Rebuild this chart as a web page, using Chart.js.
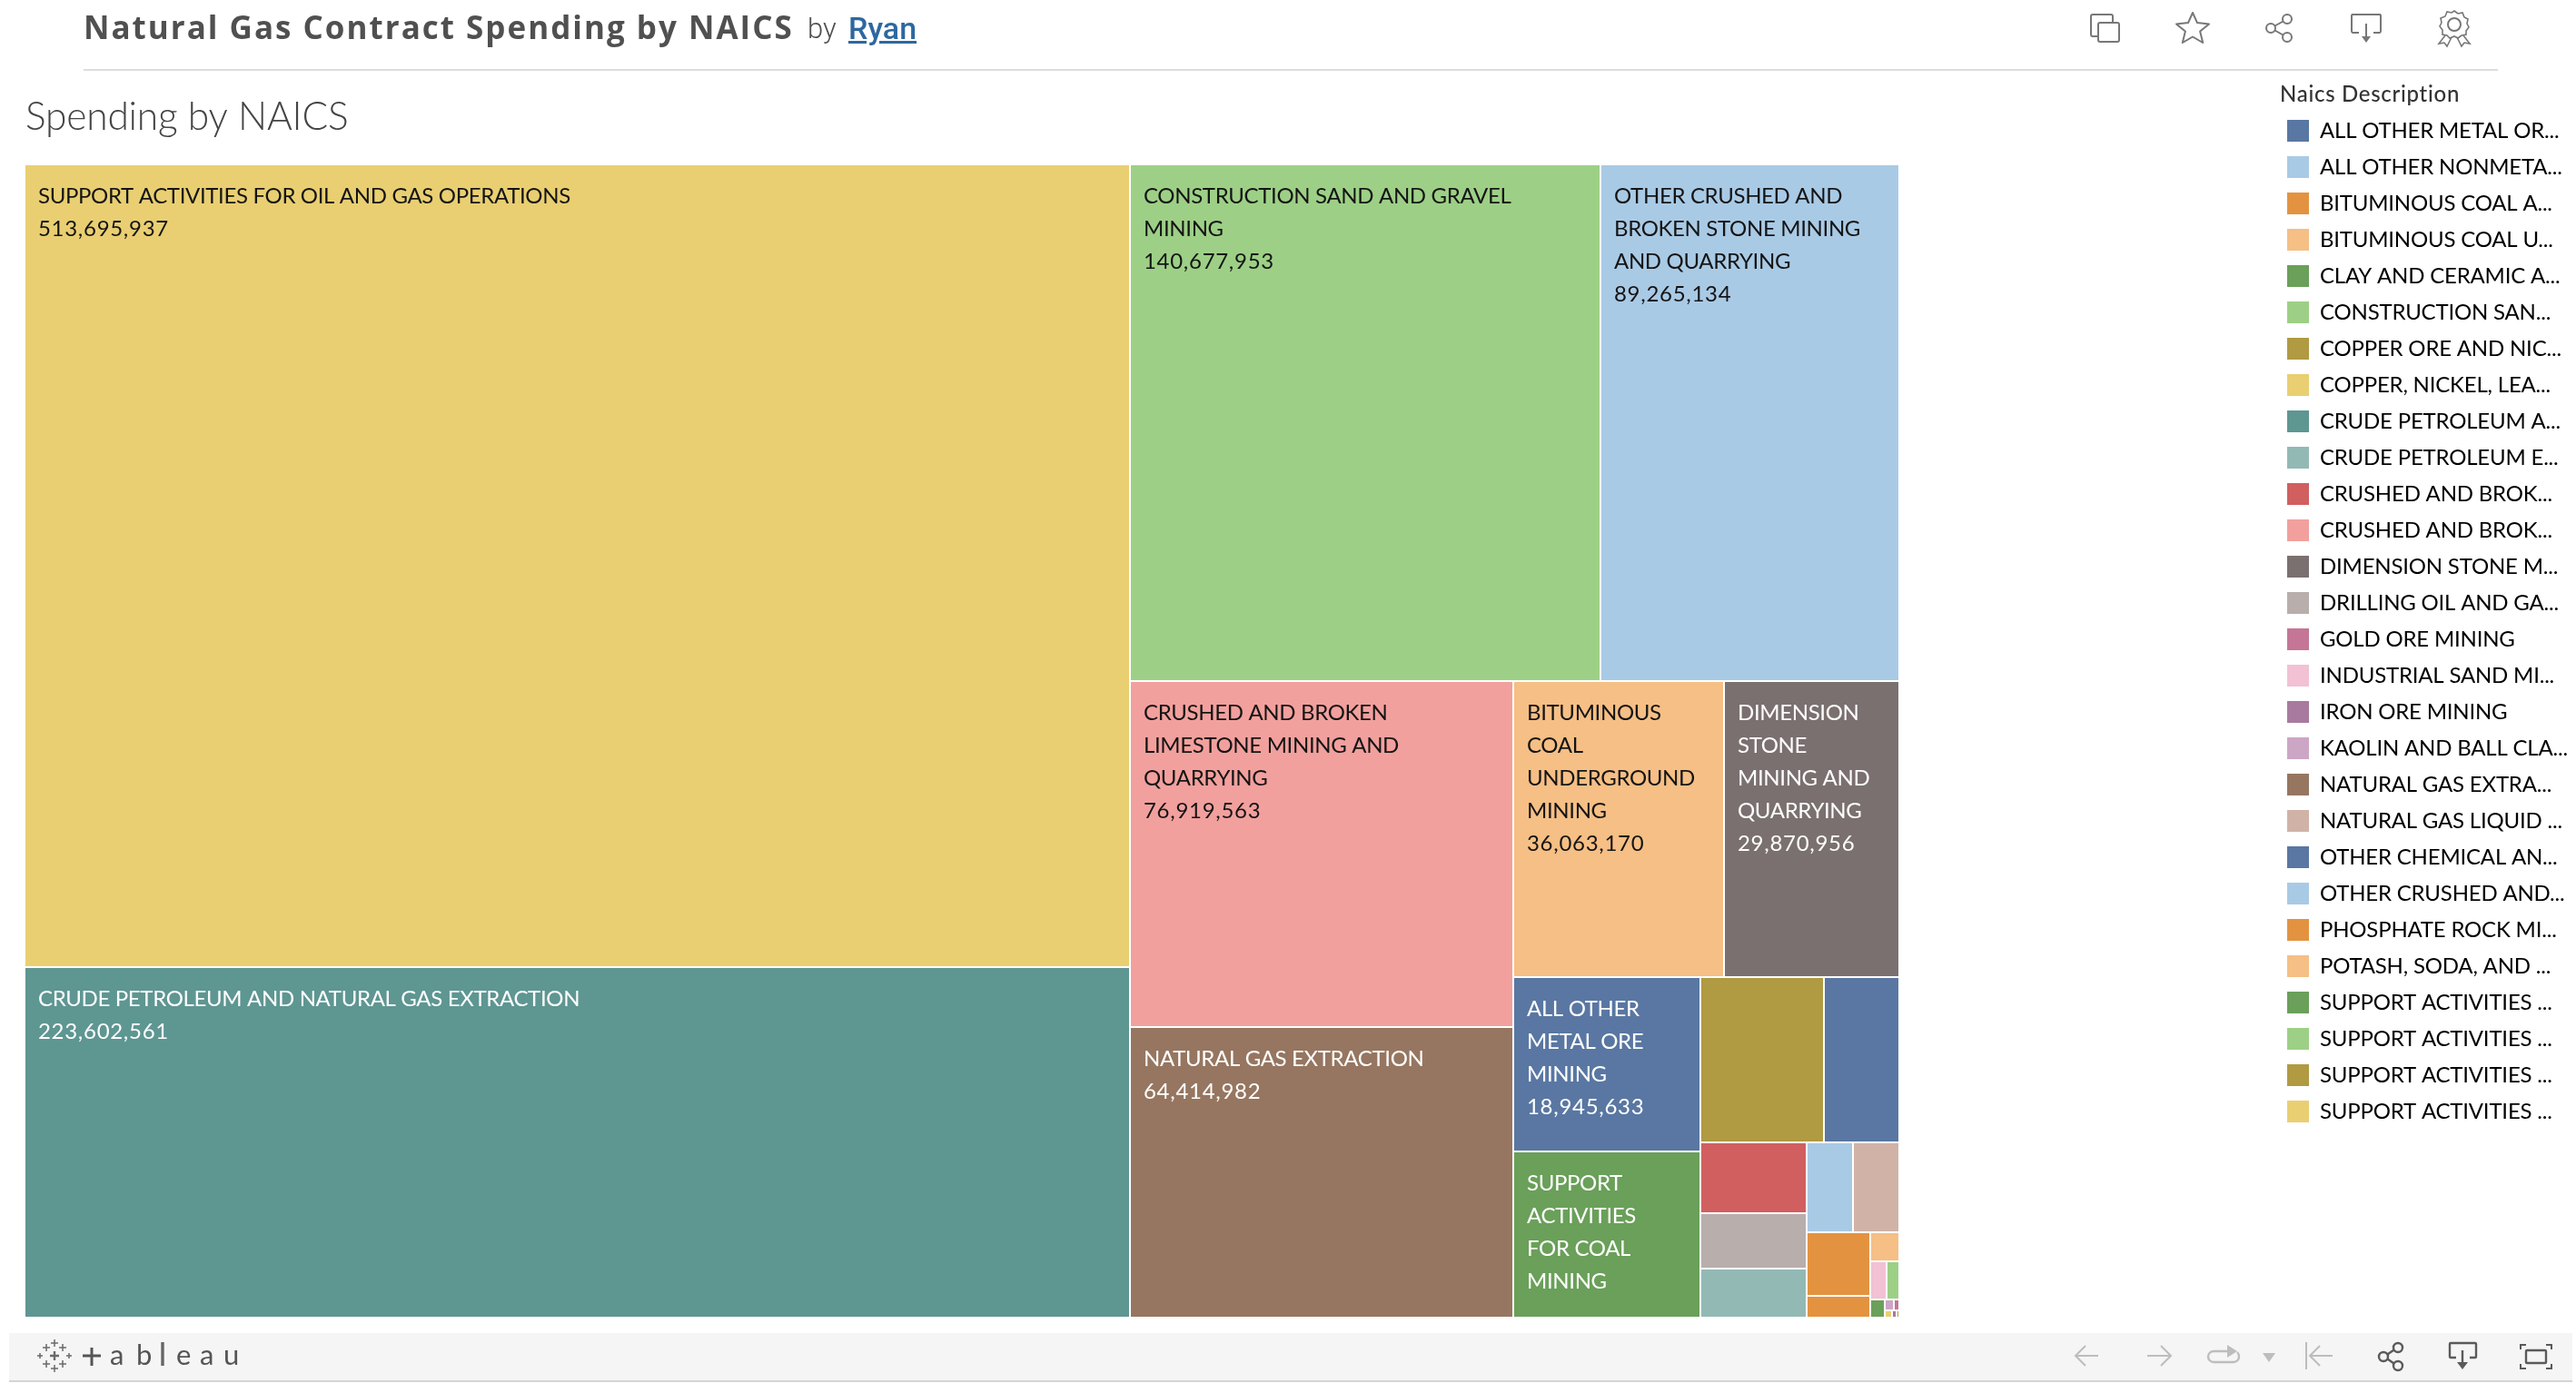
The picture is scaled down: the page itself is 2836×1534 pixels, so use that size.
<!DOCTYPE html>
<html><head><meta charset="utf-8">
<script src="https://cdn.jsdelivr.net/npm/chart.js@4/dist/chart.umd.js"></script>
<style>
html,body{margin:0;padding:0;background:#fff;width:2836px;height:1534px;overflow:hidden}
#c{position:absolute;left:0;top:0;width:2836px;height:1534px}
.t{position:absolute;white-space:pre;font-family:Roboto,sans-serif}
#ttl{left:92px;top:7px;font-family:"Open Sans",sans-serif;font-size:35px;line-height:46px;font-weight:700;color:#505050;letter-spacing:2px}
#by{left:889px;top:10px;font-size:31px;line-height:44px;font-weight:300;color:#505050}
#ryan{left:934px;top:8px;font-size:34px;line-height:46px;font-weight:500;color:#2d689f;text-decoration:underline}
#hr{position:absolute;left:92px;top:76px;width:2658px;height:2px;background:#dddddd}
#lt{left:2510px;top:88px;font-family:Lato,sans-serif;font-size:24px;line-height:30px;font-weight:500;color:#333;letter-spacing:.7px}
#foot{position:absolute;left:10px;top:1468px;width:2822px;height:52px;background:#f5f5f5;border-bottom:2px solid #d4d4d4}
svg{position:absolute;left:0;top:0}
</style></head><body>
<canvas id="c" width="2836" height="1534"></canvas>
<div id="foot"></div>
<div class="t" id="ttl">Natural Gas Contract Spending by NAICS</div>
<div class="t" id="by">by</div>
<div class="t" id="ryan">Ryan</div>
<div id="hr"></div>
<div class="t" id="lt">Naics Description</div>
<svg width="2836" height="1534" fill="none" stroke="#777" stroke-width="2">
<path d="M2309 40h-5a2 2 0 0 1-2-2V18a2 2 0 0 1 2-2h20a2 2 0 0 1 2 2v7"/><rect x="2310" y="25" width="23" height="21" rx="2"/>
<polygon points="2414,14 2419,25.1 2432,26.5 2422.1,34.6 2425.2,47 2414,40.5 2402.8,47 2405.9,34.6 2396,26.5 2409,25.1" stroke-linejoin="round"/>
<circle cx="2518" cy="21" r="5"/><circle cx="2500" cy="31" r="5"/><circle cx="2518" cy="41" r="5"/><path d="M2504.5 28.5L2513.5 23.5M2504.5 33.5L2513.5 38.5"/>
<path d="M2597 36h-7a2 2 0 0 1-1-2V17a2 2 0 0 1 1-1h30a2 2 0 0 1 1 1v17a2 2 0 0 1-1 2h-7M2605 26v15"/><path d="M2600 40h10l-5 7z" fill="#777" stroke="none"/>
<circle cx="2702" cy="27" r="7"/><path d="M2702 12l4 3 5-1 2 5 4 2-1 5 2 4-3 4v4l-5 1-4 3-4-2-5 2-3-3-5-1 0-5-3-4 2-4-1-5 5-2 2-5 5 1z" stroke-width="1.6"/><path d="M2692 39l-7 9 6-1 3 4 5-10M2712 39l7 9-6-1-3 4-5-10" stroke-width="1.6"/>
<g stroke="#bdbdbd">
<path d="M2310 1493h-25M2296 1482l-11 11 11 11"/>
<path d="M2364 1493h26M2379 1482l11 11-11 11"/>
<path d="M2452 1488h-15a6 6 0 0 0 0 12h22a6 6 0 0 0 6-6q0-3-2-5" stroke-width="2.4"/><path d="M2452 1481l11 7-11 7z" fill="#bdbdbd" stroke="none"/>
<path d="M2491 1490h14l-7 10z" fill="#bdbdbd" stroke="none"/>
<path d="M2539 1478v30M2568 1493h-25M2554 1482l-11 11 11 11"/>
</g>
<g stroke="#5a5a5a" stroke-width="2.4">
<circle cx="2640" cy="1484" r="5"/><circle cx="2624" cy="1494" r="5"/><circle cx="2640" cy="1504" r="5"/><path d="M2628.5 1491.5l7-5M2628.5 1496.5l7 5"/>
<path d="M2704 1495h-6a1 1 0 0 1-1-1v-14a1 1 0 0 1 1-1h27a1 1 0 0 1 1 1v14a1 1 0 0 1-1 1h-6M2711 1487v14"/><path d="M2705 1500h12l-6 8z" fill="#5a5a5a" stroke="none"/>
<rect x="2781" y="1487" width="22" height="14" rx="1"/>
<path d="M2775 1486v-5h6M2803 1481h6v5M2809 1502v5h-6M2781 1507h-6v-5" stroke-width="2"/>
</g>
<g stroke="#6a6a6a" stroke-width="1.5">
<path d="M55 1493h10M60 1488v10" stroke-width="2.4"/>
<path d="M56 1479h8M60 1475v8M47 1484h8M51 1480v8M65 1484h8M69 1480v8M41 1493h6M44 1490v6M73 1493h6M76 1490v6M47 1502h8M51 1498v8M65 1502h8M69 1498v8M56 1507h8M60 1503v8"/>
</g>
<path d="M91 1493h20M101 1484v20" stroke="#555" stroke-width="3"/>
<path d="M179 1478v26" stroke="#666" stroke-width="3.4"/>
<g fill="#555" stroke="none" font-family="Lato,sans-serif" font-size="31">
<text x="121" y="1503">a</text><text x="150" y="1503">b</text><text x="194" y="1503">e</text><text x="220" y="1503">a</text><text x="246" y="1503">u</text>
</g>
</svg>
<script>
// Legend entries, in the order of the reference legend
const legendLabels = ["ALL OTHER METAL OR...","ALL OTHER NONMETA...","BITUMINOUS COAL A...","BITUMINOUS COAL U...","CLAY AND CERAMIC A...","CONSTRUCTION SAN...","COPPER ORE AND NIC...","COPPER, NICKEL, LEA...","CRUDE PETROLEUM A...","CRUDE PETROLEUM E...","CRUSHED AND BROK...","CRUSHED AND BROK...","DIMENSION STONE M...","DRILLING OIL AND GA...","GOLD ORE MINING","INDUSTRIAL SAND MI...","IRON ORE MINING","KAOLIN AND BALL CLA...","NATURAL GAS EXTRA...","NATURAL GAS LIQUID ...","OTHER CHEMICAL AN...","OTHER CRUSHED AND...","PHOSPHATE ROCK MI...","POTASH, SODA, AND ...","SUPPORT ACTIVITIES ...","SUPPORT ACTIVITIES ...","SUPPORT ACTIVITIES ...","SUPPORT ACTIVITIES ..."];
// Spending per category (printed values where shown, otherwise)
const spending = [18945633,2440000,2345000,36063170,145500,140677953,11900000,27000,223602561,2960000,4320000,76919563,29870956,3450000,29000,362000,17000,57000,64414982,2350000,7200000,89265134,770000,475000,17850000,261000,7000,513695937];
const colors = ["#5977a2","#a9cae5","#e39340","#f5bf85","#6aa059","#9dd086","#b09a42","#e9cf72","#5e9692","#93b9b5","#d15f60","#f2a09d","#7a706f","#b8aeac","#c57595","#f2c1d3","#a87a9f","#cca6c5","#967660","#d0b3a6","#5977a2","#a9cae5","#e39340","#f5bf85","#6aa059","#9dd086","#b09a42","#e9cf72"];
// Wrapped label lines for the cells that carry a label
const cellLabels = {
 27:["SUPPORT ACTIVITIES FOR OIL AND GAS OPERATIONS"],
 8:["CRUDE PETROLEUM AND NATURAL GAS EXTRACTION"],
 5:["CONSTRUCTION SAND AND GRAVEL","MINING"],
 21:["OTHER CRUSHED AND","BROKEN STONE MINING","AND QUARRYING"],
 11:["CRUSHED AND BROKEN","LIMESTONE MINING AND","QUARRYING"],
 3:["BITUMINOUS","COAL","UNDERGROUND","MINING"],
 12:["DIMENSION","STONE","MINING AND","QUARRYING"],
 18:["NATURAL GAS EXTRACTION"],
 0:["ALL OTHER","METAL ORE","MINING"],
 24:["SUPPORT","ACTIVITIES","FOR COAL","MINING"]
};
const hiddenValues = [24];
const whiteText = [8,18,12,0,24];
// Treemap nesting: 'h' lays children side by side, 'v' stacks them; numbers index the arrays above
const nesting = ['h',['v',27,8],['v',['h',5,21],['h',['v',11,18],['v',['h',3,12],['h',['v',0,24],['v',['h',6,20],['h',['v',10,13,9],['v',['h',1,19],['h',['v',2,22],['v',23,['h',15,25],['h',4,['v',['h',17,14],['h',7,16,26]]]]]]]]]]]]];

const FONT = 'Lato, sans-serif', SPACING = '-0.2px', CELL_SPACING = '-0.35px', DIGIT_SPACING = '0.7px', GAP = 1;
function sum(n){return typeof n==='number'?spending[n]:n.slice(1).reduce((a,c)=>a+sum(c),0);}
const rects = [];
function place(n,x0,y0,x1,y1){
  if(typeof n==='number'){rects[n]={x0,y0,x1,y1};return;}
  const tot=sum(n);let p=n[0]==='h'?x0:y0;
  n.slice(1).forEach(c=>{
    const f=sum(c)/tot;
    if(n[0]==='h'){const e=p+f*(x1-x0);place(c,p,y0,e,y1);p=e;}
    else{const e=p+f*(y1-y0);place(c,x0,p,x1,e);p=e;}
  });
}
place(nesting,0,0,1,1);

class CellController extends Chart.DatasetController{
  update(mode){const m=this._cachedMeta;this.updateElements(m.data,0,m.data.length,mode);}
  updateElements(els,start,count,mode){
    const {xScale,yScale}=this._cachedMeta;const data=this.getDataset().data;
    const edge=(v,s,lo)=>Math.round(s.getPixelForValue(v))+(v>1e-9&&v<1-1e-9?(lo?GAP:-GAP):0);
    for(let i=start;i<start+count;i++){
      const d=data[i];
      const l=edge(d.x0,xScale,true),r=Math.max(l,edge(d.x1,xScale,false));
      const t=edge(d.y0,yScale,true),b=Math.max(t,edge(d.y1,yScale,false));
      this.updateElement(els[i],i,{x:(l+r)/2,y:t,base:b,width:r-l,height:b-t,horizontal:false,inflateAmount:0,
        borderSkipped:{top:false,left:false,right:false,bottom:false},
        options:this.resolveDataElementOptions(i,mode)},mode);
    }
  }
}
CellController.id='cell';
CellController.defaults={dataElementType:'bar'};
Chart.register(CellController,Chart.BarElement,Chart.LinearScale,Chart.Legend,Chart.Title);

const cellText={id:'cellText',
  beforeDraw(ch){ch.ctx.letterSpacing=SPACING;},
  afterDatasetsDraw(ch){
    const ctx=ch.ctx,els=ch.getDatasetMeta(0).data;ctx.save();
    ctx.font='24px '+FONT;ctx.textBaseline='alphabetic';ctx.textAlign='left';
    Object.keys(cellLabels).forEach(k=>{
      const i=+k,el=els[i];const left=el.x-el.width/2+14,top=el.y+42;
      const lines=cellLabels[k];
      ctx.fillStyle=whiteText.includes(i)?'#ffffff':'#141414';
      ctx.letterSpacing=CELL_SPACING;
      lines.forEach((s,j)=>ctx.fillText(s,left,top+j*36));
      if(!hiddenValues.includes(i)){
        ctx.letterSpacing=DIGIT_SPACING;
        ctx.fillText(spending[i].toLocaleString('en-US'),left,top+lines.length*36);
      }
    });
    ctx.restore();
  }};
const placeLegend={id:'placeLegend',afterLayout(ch){const l=ch.legend;l.left=2502;l.right=2836;l.top=116;l.bottom=1260;l.width=334;l.height=1144;}};

new Chart(document.getElementById('c'),{
  type:'cell',
  data:{labels:legendLabels,datasets:[{data:rects,backgroundColor:colors,borderWidth:0,parsing:false}]},
  plugins:[cellText,placeLegend],
  options:{responsive:false,devicePixelRatio:1,animation:false,
    layout:{padding:{left:28,right:746,top:0,bottom:84}},
    scales:{x:{type:'linear',min:0,max:1,display:false},y:{type:'linear',min:0,max:1,reverse:true,display:false}},
    plugins:{
      tooltip:{enabled:false},
      title:{display:true,text:'Spending by NAICS',align:'start',color:'#444444',
        font:{family:'Lato, sans-serif',size:42.5,weight:'300',lineHeight:1.2},padding:{top:104,bottom:27}},
      legend:{display:true,position:'chartArea',align:'start',
        labels:{boxWidth:24,boxHeight:24,padding:16,color:'#3c3c3c',font:{family:FONT,size:24},
          generateLabels:()=>legendLabels.map((t,i)=>({text:t,fillStyle:colors[i],strokeStyle:colors[i],lineWidth:0,hidden:false,index:i}))}}
    }}
});
</script>
</body></html>
